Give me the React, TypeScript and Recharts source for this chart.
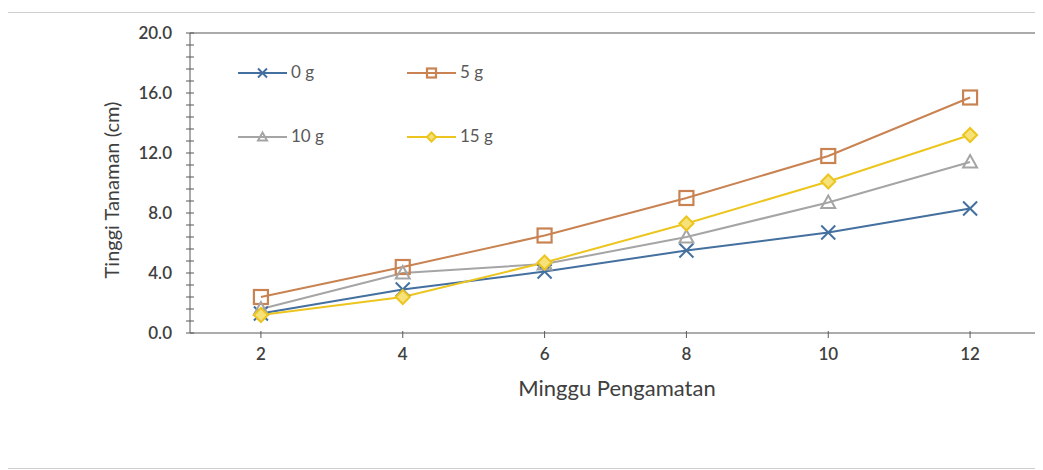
import React from "react";
import {
  LineChart,
  Line,
  XAxis,
  YAxis,
  ReferenceLine,
  Customized,
} from "recharts";

// Minggu pengamatan (weeks)
const weeks = [2, 4, 6, 8, 10, 12];

// Tinggi tanaman (cm) per dosis
const dose0g = [1.3, 2.9, 4.1, 5.5, 6.7, 8.3];
const dose5g = [2.4, 4.4, 6.5, 9.0, 11.8, 15.7];
const dose10g = [1.6, 4.0, 4.6, 6.4, 8.7, 11.4];
const dose15g = [1.2, 2.4, 4.7, 7.3, 10.1, 13.2];

const xTicks = [2, 4, 6, 8, 10, 12];
const yTicks = [
  0, 0.8, 1.6, 2.4, 3.2, 4, 4.8, 5.6, 6.4, 7.2, 8, 8.8, 9.6, 10.4, 11.2, 12,
  12.8, 13.6, 14.4, 15.2, 16, 16.8, 17.6, 18.4, 19.2, 20,
];
const yLabelTicks = [0, 4, 8, 12, 16, 20];

const FONT = "Lato, 'Open Sans', sans-serif";
const AXIS = "#595959";
const TEXT = "#404040";

const COLORS = {
  g0: "#44709f",
  g5: "#c98352",
  g10: "#a5a5a5",
  g15: "#ecc51f",
};

const data = weeks.map((w, i) => ({
  week: w,
  g0: dose0g[i],
  g5: dose5g[i],
  g10: dose10g[i],
  g15: dose15g[i],
}));

type Shape = "cross" | "square" | "triangle" | "diamond";

const Marker = ({
  cx,
  cy,
  shape,
  color,
  s = 7,
}: {
  cx: number;
  cy: number;
  shape: Shape;
  color: string;
  s?: number;
}) => {
  if (cx == null || cy == null) return null;
  if (shape === "cross") {
    return (
      <g stroke={color} strokeWidth={2}>
        <line x1={cx - s} y1={cy - s} x2={cx + s} y2={cy + s} />
        <line x1={cx - s} y1={cy + s} x2={cx + s} y2={cy - s} />
      </g>
    );
  }
  if (shape === "square") {
    return (
      <rect
        x={cx - s}
        y={cy - s}
        width={s * 2}
        height={s * 2}
        fill="none"
        stroke={color}
        strokeWidth={2.2}
      />
    );
  }
  if (shape === "triangle") {
    return (
      <polygon
        points={`${cx},${cy - s} ${cx + s},${cy + s * 0.8} ${cx - s},${cy + s * 0.8}`}
        fill="none"
        stroke={color}
        strokeWidth={2}
      />
    );
  }
  return (
    <polygon
      points={`${cx},${cy - s} ${cx + s},${cy} ${cx},${cy + s} ${cx - s},${cy}`}
      fill="#f7e27a"
      stroke={color}
      strokeWidth={2}
    />
  );
};

const series: { key: string; name: string; shape: Shape; color: string }[] = [
  { key: "g0", name: "0 g", shape: "cross", color: COLORS.g0 },
  { key: "g5", name: "5 g", shape: "square", color: COLORS.g5 },
  { key: "g10", name: "10 g", shape: "triangle", color: COLORS.g10 },
  { key: "g15", name: "15 g", shape: "diamond", color: COLORS.g15 },
];

// legend item placement (2 x 2 grid, inside the plot)
const legendPos = [
  { x: 230, y: 60 },
  { x: 399, y: 60 },
  { x: 230, y: 124 },
  { x: 399, y: 124 },
];

const LegendBox = () => (
  <g>
    {series.map((s, i) => {
      const { x, y } = legendPos[i];
      return (
        <g key={s.key}>
          <line x1={x} y1={y} x2={x + 49} y2={y} stroke={s.color} strokeWidth={2} />
          <Marker cx={x + 24.5} cy={y} shape={s.shape} color={s.color} s={4.5} />
          <text
            x={x + 53}
            y={y}
            dy={5}
            fontFamily={FONT}
            fontSize={17}
            fill="#595959"
          >
            {s.name}
          </text>
        </g>
      );
    })}
  </g>
);

const YTick = ({ x, y, payload }: any) => {
  const v = payload.value;
  const major = yLabelTicks.some((t) => Math.abs(t - v) < 0.01);
  return (
    <g>
      <line x1={x - 4} y1={y} x2={x + 4} y2={y} stroke={AXIS} strokeWidth={1} />
      {major && (
        <text
          x={x - 18}
          y={y}
          dy={6}
          textAnchor="end"
          fontFamily={FONT}
          fontSize={17}
          fontWeight={600}
          fill={TEXT}
        >
          {v.toFixed(1)}
        </text>
      )}
    </g>
  );
};

const XTick = ({ x, y, payload }: any) => (
  <g>
    <line x1={x} y1={y - 2} x2={x} y2={y + 5} stroke={AXIS} strokeWidth={1} />
    <text
      x={x}
      y={y + 27}
      textAnchor="middle"
      fontFamily={FONT}
      fontSize={17}
      fontWeight={600}
      fill={TEXT}
    >
      {payload.value}
    </text>
  </g>
);

const AxisTitles = () => (
  <g fontFamily={FONT} fill={TEXT}>
    <text x={609} y={383} textAnchor="middle" fontSize={22}>
      Minggu Pengamatan
    </text>
    <text
      x={105}
      y={177}
      textAnchor="middle"
      fontSize={20}
      transform="rotate(-90 105 177)"
      dy={6}
    >
      Tinggi Tanaman (cm)
    </text>
  </g>
);

export default function App() {
  return (
    <div
      style={{
        marginLeft: -2,
        marginTop: 4,
        width: 1037,
        height: 457,
        boxSizing: "border-box",
        borderTop: "1px solid #cfcfcf",
        borderBottom: "1px solid #cfcfcf",
        borderLeft: "2px solid #d2d2d2",
        background: "#fff",
      }}
    >
      <style>{`html,body{overflow:hidden;}`}</style>
      <LineChart
        width={1034}
        height={455}
        data={data}
        margin={{ top: 20, right: 1, left: 122, bottom: 105 }}
      >
        <XAxis
          dataKey="week"
          type="number"
          domain={[1, 13]}
          ticks={xTicks}
          interval={0}
          stroke={AXIS}
          tickSize={0}
          tickMargin={0}
          tickLine={false}
          tick={<XTick />}
          height={30}
        />
        <YAxis
          type="number"
          domain={[0, 20]}
          ticks={yTicks}
          interval={0}
          stroke={AXIS}
          tickSize={0}
          tickMargin={0}
          tickLine={false}
          tick={<YTick />}
          width={60}
        />
        <ReferenceLine y={20} stroke={AXIS} strokeWidth={1.2} />
        <ReferenceLine x={13} stroke={AXIS} strokeWidth={1.2} />
        {series.map((s) => (
          <Line
            key={s.key}
            dataKey={s.key}
            name={s.name}
            type="linear"
            stroke={s.color}
            strokeWidth={2}
            isAnimationActive={false}
            dot={(p: any) => (
              <Marker
                key={`${s.key}-${p.index}`}
                cx={p.cx}
                cy={p.cy}
                shape={s.shape}
                color={s.color}
              />
            )}
            activeDot={false}
          />
        ))}
        <Customized component={LegendBox} />
        <Customized component={AxisTitles} />
      </LineChart>
    </div>
  );
}
